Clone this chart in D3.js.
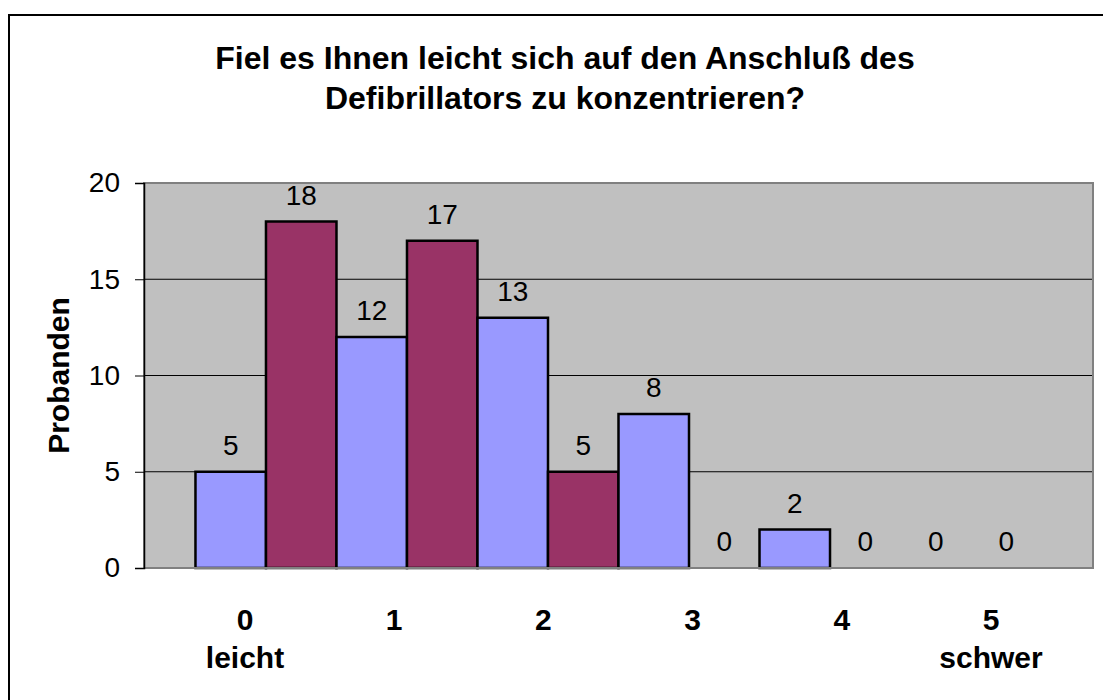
<!DOCTYPE html>
<html>
<head>
<meta charset="utf-8">
<script src="https://cdn.jsdelivr.net/npm/d3@7"></script>
<style>
  body { margin: 0; background: #fff; }
  svg { display: block; font-family: "Liberation Sans", Arial, sans-serif; }
</style>
</head>
<body>
<div id="chart"></div>
<script>
// answers per scale point, two groups of probands
var categories = ["0", "1", "2", "3", "4", "5"];
var seriesA = [5, 12, 13, 8, 2, 0];   // blue
var seriesB = [18, 17, 5, 0, 0, 0];   // maroon
var yTicks = [0, 5, 10, 15, 20];
var axisLabels = ["0", "1", "2", "3", "4", "5"];
var axisSubLabels = ["leicht", "", "", "", "", "schwer"];
var titleLines = ["Fiel es Ihnen leicht sich auf den Anschluß des", "Defibrillators zu konzentrieren?"];

var width = 1103, height = 700;
var plot = {left: 144, right: 1093, top: 183, bottom: 568};

var svg = d3.select("#chart").append("svg")
  .attr("width", width).attr("height", height);

// outer chart frame (right/bottom sit off the page)
svg.append("rect")
  .attr("x", 9).attr("y", 15)
  .attr("width", width + 20).attr("height", height + 20)
  .attr("fill", "none").attr("stroke", "#000").attr("stroke-width", 2);

var x0 = d3.scaleBand().domain(categories)
  .range([plot.left, plot.right]).paddingInner(0).paddingOuter(0.365);
var x1 = d3.scaleBand().domain(["a", "b"]).range([0, x0.bandwidth()]);
var y = d3.scaleLinear().domain([0, 20]).range([plot.bottom, plot.top]);

svg.append("rect")
  .attr("x", plot.left).attr("y", plot.top)
  .attr("width", plot.right - plot.left).attr("height", plot.bottom - plot.top)
  .attr("fill", "#c0c0c0");

svg.append("g").selectAll("line")
  .data(yTicks.filter(function(d){ return d > 0 && d < 20 }))
  .enter().append("line")
  .attr("x1", plot.left).attr("x2", plot.right)
  .attr("y1", function(d){ return y(d) }).attr("y2", function(d){ return y(d) })
  .attr("stroke", "#000").attr("stroke-width", 1);

var rows = categories.map(function(c, i){
  return [{cat: c, key: "a", v: seriesA[i], color: "#9999ff"},
          {cat: c, key: "b", v: seriesB[i], color: "#993366"}];
});
var flat = d3.merge(rows);

svg.append("g").selectAll("rect")
  .data(flat.filter(function(d){ return d.v > 0 }))
  .enter().append("rect")
  .attr("x", function(d){ return x0(d.cat) + x1(d.key) })
  .attr("y", function(d){ return y(d.v) })
  .attr("width", x1.bandwidth())
  .attr("height", function(d){ return y(0) - y(d.v) })
  .attr("fill", function(d){ return d.color })
  .attr("stroke", "#000").attr("stroke-width", 2.5);

// plot frame
svg.append("rect")
  .attr("x", plot.left).attr("y", plot.top)
  .attr("width", plot.right - plot.left).attr("height", plot.bottom - plot.top)
  .attr("fill", "none").attr("stroke", "#808080").attr("stroke-width", 2);

svg.append("g").selectAll("text")
  .data(flat)
  .enter().append("text")
  .attr("x", function(d){ return x0(d.cat) + x1(d.key) + x1.bandwidth() / 2 })
  .attr("y", function(d){ return y(d.v) - 17 })
  .attr("text-anchor", "middle")
  .attr("font-size", 28)
  .text(function(d){ return d.v });

var yAxis = svg.append("g")
  .attr("transform", "translate(" + plot.left + ",0)")
  .call(d3.axisLeft(y).tickValues(yTicks).tickSize(9).tickPadding(15));
yAxis.select(".domain").attr("stroke", "#000").attr("stroke-width", 1.5);
yAxis.selectAll(".tick line").attr("stroke", "#000");
yAxis.selectAll(".tick text")
  .attr("font-size", 28).attr("fill", "#000")
  .attr("font-family", "Liberation Sans, Arial, sans-serif");

svg.append("text")
  .attr("transform", "translate(69," + (plot.top + plot.bottom) / 2 + ") rotate(-90)")
  .attr("text-anchor", "middle")
  .attr("font-size", 30).attr("font-weight", "bold")
  .text("Probanden");

svg.append("g").selectAll("text")
  .data(titleLines)
  .enter().append("text")
  .attr("x", 565)
  .attr("y", function(d, i){ return 69 + i * 40 })
  .attr("text-anchor", "middle")
  .attr("font-size", 32).attr("font-weight", "bold")
  .text(function(d){ return d });

// label text box under the plot
var xl = d3.scalePoint().domain(axisLabels).range([245, 991]);
var lab = svg.append("g").selectAll("g")
  .data(axisLabels)
  .enter().append("g")
  .attr("transform", function(d){ return "translate(" + xl(d) + ",0)" });
lab.append("text")
  .attr("y", 630).attr("text-anchor", "middle")
  .attr("font-size", 30).attr("font-weight", "bold")
  .text(function(d){ return d });
lab.append("text")
  .attr("y", 668).attr("text-anchor", "middle")
  .attr("font-size", 30).attr("font-weight", "bold")
  .text(function(d, i){ return axisSubLabels[i] });
</script>
</body>
</html>
